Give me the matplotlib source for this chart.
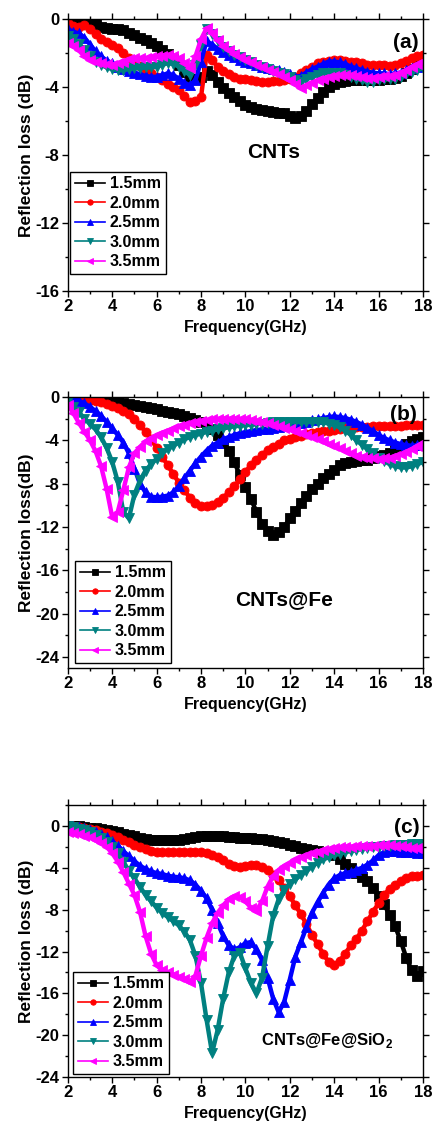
"""
Reflection loss vs frequency for CNTs, CNTs@Fe and CNTs@Fe@SiO2 at several thicknesses.
"""

import numpy as np
import matplotlib
matplotlib.use("Agg")
import matplotlib.pyplot as plt
from matplotlib.ticker import MultipleLocator

plt.rcParams['font.family'] = ['Liberation Sans', 'DejaVu Sans']
plt.rcParams['font.weight'] = 'bold'
plt.rcParams['axes.labelweight'] = 'bold'
plt.rcParams['axes.unicode_minus'] = False
plt.rcParams['mathtext.fontset'] = 'custom'
plt.rcParams['mathtext.rm'] = 'Liberation Sans:bold'
plt.rcParams['mathtext.bf'] = 'Liberation Sans:bold'

# frequency grid (GHz), 2-18 in 0.25 steps
freq = np.arange(2.0, 18.001, 0.25)

thickness = ["1.5mm", "2.0mm", "2.5mm", "3.0mm", "3.5mm"]

# ---- (a) CNTs ----
cnt_15 = [-0.05, 0.0, 0.0, -0.05, -0.15, -0.3, -0.45, -0.55, -0.6, -0.6, -0.65, -0.8, -0.95,
          -1.1, -1.25, -1.4, -1.6, -1.8, -2.05, -2.35, -2.7, -3.1, -3.5, -3.55, -3.4, -3.05,
          -3.3, -3.7, -4.05, -4.35, -4.6, -4.85, -5.05, -5.2, -5.3, -5.35, -5.4, -5.45, -5.5,
          -5.55, -5.7, -5.8, -5.7, -5.4, -5.0, -4.65, -4.3, -4.0, -3.8, -3.7, -3.65, -3.6,
          -3.6, -3.6, -3.6, -3.6, -3.6, -3.55, -3.5, -3.45, -3.35, -3.15, -2.95, -2.7, -2.5]
cnt_20 = [-0.25, -0.4, -0.45, -0.35, -0.6, -0.9, -1.15, -1.35, -1.5, -1.7, -2.0, -2.3, -2.55,
          -2.75, -3.0, -3.2, -3.4, -3.6, -3.8, -4.0, -4.2, -4.55, -4.9, -4.85, -4.6, -2.1,
          -2.4, -2.8, -3.05, -3.25, -3.4, -3.5, -3.55, -3.6, -3.65, -3.7, -3.7, -3.65, -3.65,
          -3.6, -3.55, -3.4, -3.2, -3.0, -2.8, -2.6, -2.5, -2.45, -2.4, -2.4, -2.45, -2.5,
          -2.55, -2.6, -2.7, -2.7, -2.7, -2.7, -2.75, -2.7, -2.6, -2.45, -2.3, -2.15, -2.1]
cnt_25 = [-0.6, -0.75, -0.85, -1.1, -1.5, -1.9, -2.2, -2.45, -2.6, -2.8, -2.95, -3.05, -3.15,
          -3.25, -3.35, -3.4, -3.4, -3.3, -3.2, -3.3, -3.5, -3.75, -3.9, -3.6, -2.5, -1.3,
          -1.5, -1.75, -1.95, -2.1, -2.25, -2.4, -2.5, -2.6, -2.7, -2.8, -2.9, -2.95, -3.0,
          -3.1, -3.25, -3.4, -3.35, -3.15, -2.95, -2.8, -2.65, -2.5, -2.5, -2.55, -2.65, -2.8,
          -2.9, -3.0, -3.1, -3.15, -3.2, -3.2, -3.25, -3.2, -3.15, -3.0, -2.9, -2.8, -2.75]
cnt_30 = [-1.0, -1.2, -1.45, -1.8, -2.2, -2.5, -2.7, -2.85, -2.95, -3.0, -3.0, -2.95, -2.9,
          -2.9, -2.85, -2.85, -2.8, -2.7, -2.6, -2.65, -2.8, -3.05, -3.3, -2.7, -1.5, -0.6,
          -0.9, -1.3, -1.65, -1.9, -2.1, -2.25, -2.4, -2.55, -2.7, -2.85, -2.95, -3.05, -3.15,
          -3.25, -3.4, -3.6, -3.7, -3.55, -3.4, -3.3, -3.2, -3.15, -3.15, -3.2, -3.3, -3.4,
          -3.5, -3.6, -3.7, -3.7, -3.6, -3.55, -3.55, -3.5, -3.4, -3.25, -3.1, -3.0, -2.9]
cnt_35 = [-1.4, -1.6, -1.85, -2.2, -2.4, -2.55, -2.6, -2.65, -2.7, -2.6, -2.5, -2.35, -2.3,
          -2.3, -2.3, -2.25, -2.2, -2.15, -2.1, -2.15, -2.3, -2.6, -2.9, -2.2, -1.2, -0.55,
          -0.85, -1.25, -1.6, -1.85, -2.05, -2.25, -2.4, -2.55, -2.7, -2.85, -3.0, -3.1, -3.25,
          -3.4, -3.6, -3.85, -4.05, -3.9, -3.75, -3.6, -3.5, -3.4, -3.35, -3.3, -3.3, -3.3,
          -3.35, -3.4, -3.45, -3.45, -3.4, -3.35, -3.35, -3.3, -3.15, -3.0, -2.8, -2.65, -2.5]

# ---- (b) CNTs@Fe ----
fe_15 = [0.0, -0.02, -0.04, -0.07, -0.1, -0.15, -0.2, -0.28, -0.35, -0.45, -0.55, -0.65, -0.75,
         -0.85, -0.95, -1.05, -1.15, -1.25, -1.35, -1.47, -1.6, -1.75, -1.9, -2.1, -2.3, -2.6,
         -3.0, -3.5, -4.2, -5.0, -6.0, -7.2, -8.3, -9.4, -10.6, -11.7, -12.4, -12.7, -12.5,
         -12.0, -11.2, -10.5, -9.8, -9.1, -8.5, -8.0, -7.5, -7.1, -6.7, -6.3, -6.1, -6.0,
         -5.9, -5.85, -5.8, -5.6, -5.45, -5.35, -5.2, -4.9, -4.6, -4.35, -4.1, -3.9, -3.7]
fe_20 = [0.0, -0.05, -0.1, -0.18, -0.27, -0.37, -0.5, -0.65, -0.8, -1.0, -1.25, -1.6, -2.0,
         -2.6, -3.2, -3.9, -4.7, -5.5, -6.3, -7.1, -7.9, -8.6, -9.3, -9.8, -10.05, -10.1,
         -9.95, -9.7, -9.3, -8.8, -8.2, -7.6, -6.9, -6.3, -5.8, -5.35, -4.9, -4.6, -4.3,
         -4.0, -3.85, -3.7, -3.6, -3.45, -3.35, -3.25, -3.15, -3.1, -3.05, -3.0, -2.9, -2.85,
         -2.8, -2.78, -2.75, -2.72, -2.7, -2.7, -2.7, -2.68, -2.65, -2.62, -2.6, -2.6, -2.6]
fe_25 = [0.0, -0.15, -0.35, -0.6, -0.9, -1.3, -1.75, -2.3, -2.9, -3.5, -4.2, -5.2, -6.6,
         -8.0, -8.8, -9.2, -9.25, -9.2, -9.1, -8.8, -8.2, -7.5, -6.8, -6.1, -5.5, -4.95,
         -4.5, -4.2, -3.9, -3.7, -3.5, -3.35, -3.25, -3.15, -3.05, -3.0, -2.95, -2.85, -2.8,
         -2.7, -2.6, -2.5, -2.4, -2.3, -2.15, -2.05, -1.95, -1.85, -1.8, -1.85, -1.95, -2.1,
         -2.3, -2.55, -2.85, -3.15, -3.5, -3.8, -4.0, -4.2, -4.35, -4.45, -4.5, -4.45, -4.4]
fe_30 = [-0.4, -0.9, -1.4, -2.0, -2.5, -3.0, -3.7, -4.7, -6.0, -7.8, -10.6, -11.2, -9.0,
         -7.7, -6.8, -6.2, -5.7, -5.2, -4.8, -4.5, -4.2, -3.9, -3.7, -3.5, -3.4, -3.2,
         -3.1, -3.0, -2.9, -2.8, -2.7, -2.65, -2.6, -2.55, -2.5, -2.45, -2.4, -2.35, -2.35,
         -2.3, -2.3, -2.3, -2.3, -2.3, -2.3, -2.3, -2.35, -2.45, -2.6, -2.8, -3.1, -3.5,
         -4.0, -4.4, -4.8, -5.2, -5.6, -5.9, -6.2, -6.4, -6.5, -6.5, -6.4, -6.2, -6.0]
fe_35 = [-0.7, -1.5, -2.4, -3.2, -4.0, -5.0, -6.4, -8.5, -11.1, -10.6, -8.6, -6.5, -5.2,
         -4.6, -4.1, -3.8, -3.5, -3.3, -3.1, -2.9, -2.7, -2.55, -2.4, -2.3, -2.2, -2.12,
         -2.05, -2.02, -2.0, -2.0, -2.0, -2.02, -2.05, -2.1, -2.2, -2.3, -2.4, -2.55, -2.7,
         -2.85, -3.0, -3.15, -3.3, -3.5, -3.7, -3.9, -4.1, -4.3, -4.5, -4.75, -5.0, -5.2,
         -5.4, -5.5, -5.6, -5.65, -5.7, -5.65, -5.6, -5.45, -5.3, -5.05, -4.8, -4.5, -4.2]

# ---- (c) CNTs@Fe@SiO2 ----
si_15 = [0.0, -0.02, -0.05, -0.1, -0.15, -0.22, -0.3, -0.4, -0.5, -0.62, -0.75, -0.88, -1.0,
         -1.12, -1.25, -1.32, -1.35, -1.37, -1.35, -1.32, -1.3, -1.22, -1.15, -1.07, -1.0, -0.97,
         -0.95, -0.97, -1.0, -1.05, -1.1, -1.12, -1.15, -1.17, -1.2, -1.25, -1.3, -1.4, -1.5,
         -1.65, -1.8, -1.95, -2.1, -2.2, -2.3, -2.38, -2.45, -2.6, -2.75, -3.2, -3.6, -4.0,
         -4.5, -4.9, -5.3, -5.9, -6.7, -7.5, -8.5, -9.6, -11.0, -12.6, -13.8, -14.3, -13.9]
si_20 = [0.0, -0.05, -0.1, -0.2, -0.3, -0.42, -0.55, -0.7, -0.85, -1.05, -1.3, -1.55, -1.8,
         -2.0, -2.2, -2.35, -2.45, -2.5, -2.52, -2.5, -2.47, -2.45, -2.45, -2.47, -2.5, -2.6,
         -2.8, -3.0, -3.3, -3.6, -3.8, -3.9, -3.8, -3.7, -3.75, -3.95, -4.2, -4.7, -5.2,
         -5.9, -6.7, -7.6, -8.4, -9.4, -10.4, -11.3, -12.2, -13.0, -13.3, -12.9, -12.2, -11.4,
         -10.8, -10.0, -9.1, -8.2, -7.4, -6.6, -6.0, -5.6, -5.3, -5.0, -4.8, -4.75, -4.7]
si_25 = [0.0, -0.05, -0.12, -0.22, -0.35, -0.55, -0.8, -1.1, -1.45, -1.9, -2.4, -2.9, -3.35,
         -3.8, -4.1, -4.35, -4.5, -4.6, -4.75, -4.85, -4.9, -5.0, -5.2, -5.6, -6.2, -6.9,
         -8.0, -9.3, -10.5, -11.4, -11.8, -11.6, -11.2, -11.1, -11.8, -12.8, -14.5, -16.5, -17.8,
         -16.8, -14.7, -12.5, -11.1, -9.7, -8.3, -7.3, -6.4, -5.6, -5.0, -4.7, -4.5, -4.4,
         -4.2, -4.0, -3.7, -3.3, -2.8, -2.5, -2.4, -2.4, -2.45, -2.5, -2.5, -2.55, -2.6]
si_30 = [-0.05, -0.1, -0.25, -0.4, -0.6, -0.85, -1.15, -1.5, -2.0, -2.6, -3.4, -4.3, -5.0,
         -5.8, -6.6, -7.2, -7.8, -8.3, -8.7, -9.1, -9.5, -10.1, -10.9, -12.4, -15.0, -18.5,
         -21.7, -19.5, -16.5, -14.0, -12.4, -12.1, -13.6, -15.0, -16.0, -14.5, -11.5, -8.6, -7.0,
         -6.1, -5.5, -5.1, -4.7, -4.3, -3.9, -3.5, -3.2, -3.0, -2.8, -2.65, -2.5, -2.4,
         -2.3, -2.2, -2.1, -2.05, -2.0, -1.95, -1.9, -1.85, -1.8, -1.78, -1.75, -1.75, -1.75]
si_35 = [-0.6, -0.7, -0.8, -1.0, -1.1, -1.3, -1.6, -2.0, -2.6, -3.4, -4.4, -5.5, -6.6,
         -8.2, -10.5, -12.2, -13.3, -13.8, -14.0, -14.2, -14.4, -14.6, -14.9, -14.3, -12.4, -10.7,
         -9.3, -8.3, -7.6, -7.0, -6.7, -6.8, -7.2, -7.8, -8.1, -7.2, -5.8, -4.8, -4.2,
         -3.8, -3.5, -3.2, -3.0, -2.8, -2.6, -2.45, -2.3, -2.2, -2.1, -2.05, -2.0, -1.97,
         -1.95, -1.92, -1.9, -1.87, -1.85, -1.85, -1.85, -1.9, -1.95, -2.0, -2.1, -2.15, -2.2]

colors = ["#000000", "#FF0000", "#0000FF", "#008080", "#FF00FF"]
markers = ["s", "o", "^", "v", "<"]

panels = [
    dict(data=[cnt_15, cnt_20, cnt_25, cnt_30, cnt_35], ylim=(-16, 0),
         ylabel="Reflection loss (dB)", tag="(a)", tag_xy=(0.952, 0.915),
         name="CNTs", name_xy=(0.58, 0.511), name_size=15,
         rect=[0.157, 0.7427, 0.822, 0.2405], leg_anchor=(0.006, 0.062)),
    dict(data=[fe_15, fe_20, fe_25, fe_30, fe_35], ylim=(-25, 0),
         ylabel="Reflection loss(dB)", tag="(b)", tag_xy=(0.944, 0.934),
         name="CNTs@Fe", name_xy=(0.608, 0.251), name_size=15,
         rect=[0.157, 0.4094, 0.822, 0.2396], leg_anchor=(0.02, 0.018)),
    dict(data=[si_15, si_20, si_25, si_30, si_35], ylim=(-24, 2),
         ylabel="Reflection loss (dB)", tag="(c)", tag_xy=(0.955, 0.919),
         name=r"CNTs@Fe@SiO$_\mathbf{2}$", name_xy=(0.73, 0.136), name_size=12,
         rect=[0.157, 0.0477, 0.822, 0.2405], leg_anchor=(0.014, 0.011)),
]

fig = plt.figure(figsize=(4.32, 11.31), dpi=100)

for p in panels:
    ax = fig.add_axes(p["rect"])
    for vals, lab, c, m in zip(p["data"], thickness, colors, markers):
        ax.plot(freq, vals, color=c, marker=m, markersize=6.5, linewidth=3.2,
                markeredgewidth=0.6, label=lab)
    ax.set_xlim(2, 18)
    ax.set_ylim(*p["ylim"])
    ax.xaxis.set_major_locator(MultipleLocator(2))
    ax.xaxis.set_minor_locator(MultipleLocator(1))
    ax.yaxis.set_major_locator(MultipleLocator(4))
    ax.yaxis.set_minor_locator(MultipleLocator(2))
    ax.tick_params(which="both", direction="out", top=True, right=True,
                   labelsize=12, width=1, pad=2)
    ax.tick_params(which="major", length=4)
    ax.tick_params(which="minor", length=2.5)
    for lbl in ax.get_xticklabels() + ax.get_yticklabels():
        lbl.set_fontweight("bold")
    for s in ax.spines.values():
        s.set_linewidth(1)
    ax.set_xlabel("Frequency(GHz)", fontsize=11.5, fontweight="bold", labelpad=4)
    ax.set_ylabel(p["ylabel"], fontsize=12.5, fontweight="bold", labelpad=1)
    ax.text(*p["tag_xy"], p["tag"], transform=ax.transAxes, ha="center", va="center",
            fontsize=15, fontweight="bold")
    ax.text(*p["name_xy"], p["name"], transform=ax.transAxes, ha="center", va="center",
            fontsize=p["name_size"], fontweight="bold")
    leg = ax.legend(loc="lower left", bbox_to_anchor=p["leg_anchor"], borderaxespad=0,
                    numpoints=1, markerscale=0.6, handlelength=1.9,
                    handletextpad=0.3, labelspacing=0.28, borderpad=0.3,
                    fancybox=False, framealpha=1, edgecolor="black",
                    prop=dict(weight="bold", size=11.5))
    leg.get_frame().set_linewidth(1)
    for h in leg.get_lines():
        h.set_linewidth(1.2)

fig.savefig("out.png", dpi=100)
